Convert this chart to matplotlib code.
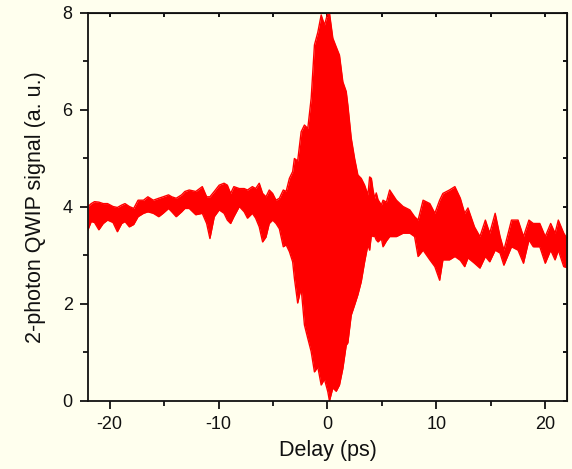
import matplotlib
matplotlib.use("Agg")
import matplotlib.pyplot as plt
from matplotlib.ticker import MultipleLocator

plt.rcParams['font.family'] = ['Liberation Sans', 'DejaVu Sans']
plt.rcParams['axes.unicode_minus'] = False

# Delay (ps) and the upper / lower envelope of the fringe-resolved signal (a. u.)
delay_ps = [-22.0, -21.7, -21.4, -21.0, -20.6, -20.2, -19.7, -19.3, -18.9, -18.6,
            -18.2, -17.8, -17.4, -16.9, -16.5, -16.0, -15.5, -15.1, -14.6, -14.3,
            -13.9, -13.4, -13.1, -12.7, -12.1, -11.5, -11.1, -10.8, -10.4, -9.95,
            -9.5, -9.2, -8.9, -8.6, -8.1, -7.65, -7.35, -6.9, -6.6, -6.27,
            -5.96, -5.65, -5.35, -5.04, -4.73, -4.42, -4.06, -3.8, -3.5, -3.2,
            -3.04, -2.74, -2.42, -2.12, -1.81, -1.5, -1.2, -0.89, -0.58, -0.28,
            0.03, 0.18, 0.49, 0.8, 1.1, 1.41, 1.72, 1.87, 2.18, 2.49,
            2.79, 3.1, 3.41, 3.71, 3.87, 4.03, 4.18, 4.33, 4.48, 4.64,
            4.95, 5.1, 5.41, 5.71, 6.33, 6.94, 7.56, 8.0, 8.32, 8.78,
            9.4, 9.86, 10.3, 10.6, 11.2, 11.7, 12.2, 12.6, 12.9, 13.5,
            14.0, 14.5, 14.9, 15.4, 15.85, 16.2, 16.9, 17.5, 18.0, 18.5,
            18.9, 19.5, 20.0, 20.5, 20.9, 21.2, 21.7, 22.0]

signal_upper = [4.01, 4.07, 4.11, 4.10, 4.07, 4.07, 4.01, 3.99, 4.04, 4.07,
                4.01, 3.97, 4.14, 4.14, 4.21, 4.14, 4.18, 4.21, 4.25, 4.21,
                4.18, 4.25, 4.32, 4.35, 4.32, 4.42, 4.21, 4.21, 4.32, 4.45,
                4.49, 4.45, 4.28, 4.42, 4.38, 4.38, 4.35, 4.42, 4.38, 4.49,
                4.28, 4.21, 4.35, 4.28, 4.14, 4.18, 4.35, 4.32, 4.59, 4.73,
                5.00, 4.95, 5.55, 5.69, 5.62, 6.24, 7.34, 7.60, 7.96, 7.75,
                8.00, 8.00, 7.48, 7.30, 7.13, 6.58, 6.38, 6.10, 5.42, 5.00,
                4.66, 4.59, 4.45, 4.25, 4.62, 4.59, 4.35, 4.18, 4.29, 4.15,
                4.04, 4.14, 4.10, 4.35, 4.14, 4.01, 3.94, 3.80, 3.73, 4.14,
                4.07, 3.87, 4.14, 4.28, 4.35, 4.42, 4.18, 3.87, 3.98, 3.59,
                3.39, 3.73, 3.46, 3.87, 3.39, 3.11, 3.73, 3.73, 3.39, 3.73,
                3.66, 3.66, 3.39, 3.66, 3.46, 3.73, 3.46, 3.35]

signal_lower = [3.53, 3.70, 3.68, 3.53, 3.66, 3.73, 3.68, 3.49, 3.66, 3.70,
                3.59, 3.64, 3.80, 3.87, 3.90, 3.87, 3.80, 3.87, 3.97, 3.90,
                3.80, 3.90, 3.97, 3.97, 3.84, 3.87, 3.66, 3.35, 3.80, 3.94,
                3.87, 3.73, 3.66, 3.80, 4.01, 3.90, 3.77, 3.87, 3.77, 3.59,
                3.28, 3.38, 3.66, 3.73, 3.66, 3.55, 3.18, 3.22, 3.08, 2.87,
                2.53, 2.02, 2.33, 1.57, 1.29, 1.02, 0.60, 0.70, 0.33, 0.45,
                0.19, 0.00, 0.27, 0.20, 0.33, 0.67, 1.15, 1.20, 1.77, 1.98,
                2.19, 2.46, 2.87, 3.22, 3.11, 3.42, 3.39, 3.40, 3.32, 3.28,
                3.35, 3.18, 3.30, 3.39, 3.39, 3.46, 3.46, 3.39, 2.98, 3.11,
                2.91, 2.77, 2.49, 2.91, 2.91, 2.98, 2.90, 2.77, 2.95, 2.84,
                2.74, 2.98, 2.87, 3.11, 3.05, 2.80, 3.18, 3.11, 2.84, 3.32,
                3.18, 3.18, 2.84, 3.11, 2.91, 3.11, 2.77, 2.75]

x_ticks = [-20, -10, 0, 10, 20]
y_ticks = [0, 2, 4, 6, 8]

bg = '#FFFFEE'
fig = plt.figure(figsize=(5.72, 4.69), dpi=100, facecolor=bg)
ax = fig.add_axes([0.1538, 0.145, 0.8375, 0.8273])
ax.set_facecolor(bg)

ax.fill_between(delay_ps, signal_lower, signal_upper, color='#FF0000', lw=0)
ax.plot(delay_ps, signal_upper, color='#FF0000', lw=1.0)
ax.plot(delay_ps, signal_lower, color='#FF0000', lw=1.0)

ax.set_xlim(-22, 22)
ax.set_ylim(0, 8)
ax.set_xticks(x_ticks)
ax.set_yticks(y_ticks)
ax.xaxis.set_minor_locator(MultipleLocator(5))
ax.yaxis.set_minor_locator(MultipleLocator(1))

for s in ax.spines.values():
    s.set_linewidth(1.3)
    s.set_color('#111111')

ax.tick_params(which='major', direction='out', length=6, width=1.3, labelsize=13,
               colors='#111111', pad=5)
ax.tick_params(which='minor', direction='out', length=3.5, width=1.3, colors='#111111')

top = ax.secondary_xaxis('top')
top.set_xticks(x_ticks + [-15, -5, 5, 15])
top.tick_params(direction='in', length=3, width=1.3, labeltop=False)
right = ax.secondary_yaxis('right')
right.set_yticks(list(range(0, 9)))
right.tick_params(direction='in', length=3, width=1.3, labelright=False)

ax.set_xlabel('Delay (ps)', fontsize=15.5, labelpad=5, color='#111111')
ax.set_ylabel('2-photon QWIP signal (a. u.)', fontsize=15.5, labelpad=12, color='#111111')

fig.savefig('out.png', dpi=100, facecolor=bg)
